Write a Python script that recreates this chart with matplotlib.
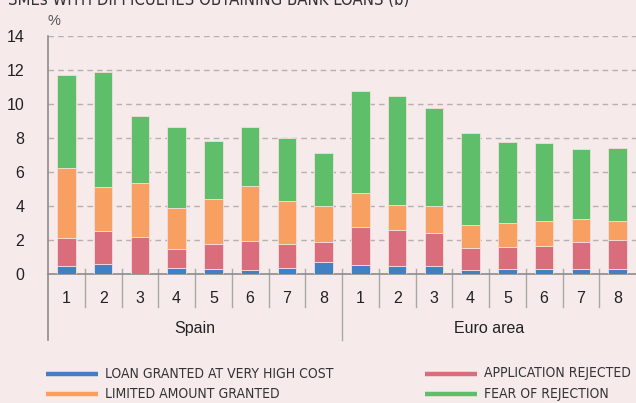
import matplotlib.pyplot as plt
from matplotlib.lines import Line2D
import numpy as np

# data (percent of SMEs)
groups = ['Spain', 'Euro area']
periods = ['1', '2', '3', '4', '5', '6', '7', '8']
high_cost = [0.49, 0.57, 0.0, 0.37, 0.31, 0.22, 0.33, 0.71,
             0.51, 0.45, 0.49, 0.22, 0.29, 0.31, 0.27, 0.31]
rejected = [1.63, 1.94, 2.16, 1.12, 1.45, 1.70, 1.43, 1.15,
            2.24, 2.12, 1.92, 1.29, 1.30, 1.32, 1.63, 1.67]
limited = [4.12, 2.63, 3.19, 2.39, 2.67, 3.26, 2.53, 2.12,
           2.03, 1.49, 1.61, 1.39, 1.43, 1.49, 1.35, 1.16]
fear = [5.49, 6.74, 3.92, 4.75, 3.37, 3.49, 3.73, 3.16,
        5.98, 6.43, 5.76, 5.41, 4.76, 4.57, 4.12, 4.27]

series = [('LOAN GRANTED AT VERY HIGH COST', high_cost, '#4280c4'),
          ('APPLICATION REJECTED', rejected, '#d96d7b'),
          ('LIMITED AMOUNT GRANTED', limited, '#f8a062'),
          ('FEAR OF REJECTION', fear, '#5fbe6a')]

bg = '#f6eaea'
plt.rcParams['font.family'] = ['Liberation Sans', 'DejaVu Sans']

fig = plt.figure(figsize=(6.36, 4.03), dpi=100, facecolor=bg)
ax = fig.add_axes([48 / 636, 129 / 403, 588 / 636, 238 / 403])
ax.set_facecolor(bg)

x = np.arange(len(periods) * len(groups))
bottom = np.zeros(len(x))
for name, vals, col in series:
    ax.bar(x, vals, 0.51, bottom=bottom, color=col, edgecolor='#f3dede',
           linewidth=0.6, zorder=3)
    bottom += np.array(vals)

ax.set_xlim(-0.5, len(x) - 0.5)
ax.set_ylim(0, 14)
ax.set_yticks(range(0, 15, 2))
ax.tick_params(axis='y', length=0, pad=17, labelsize=11.5, labelcolor='#222222')
ax.set_xticks(x)
ax.set_xticklabels(periods * len(groups))
ax.tick_params(axis='x', length=0, pad=12, labelsize=11.5, labelcolor='#222222')
ax.grid(axis='y', color='#b8b0b0', linestyle=(0, (4, 3)), linewidth=1, zorder=0)

for s in ['top', 'right']:
    ax.spines[s].set_visible(False)
ax.spines['bottom'].set_color('#8c8c8c')
ax.spines['bottom'].set_linewidth(1.2)
ax.spines['left'].set_visible(False)

tr = ax.get_xaxis_transform()
# left axis running down through the category area
ax.plot([-0.5, -0.5], [1.0, -0.277], color='#8c8c8c', lw=1.2, transform=tr, clip_on=False)
for k in range(1, len(x)):
    if k % len(periods) == 0:
        ax.plot([k - 0.5, k - 0.5], [0.021, -0.277], color='#a8a8a8', lw=1,
                transform=tr, clip_on=False)
    else:
        ax.plot([k - 0.5, k - 0.5], [0.021, -0.139], color='#a8a8a8', lw=1,
                transform=tr, clip_on=False)

for i, g in enumerate(groups):
    ax.text(i * len(periods) + (len(periods) - 1) / 2, -0.227, g, transform=tr,
            ha='center', va='center', fontsize=11.5, color='#222222')

ax.text(-0.5, 1.065, '%', transform=tr, ha='left', va='center',
        fontsize=10.5, color='#555555')

# title sits mostly above the visible area, as in the source image
fig.text(8 / 636, 1 - 5 / 403, 'SMEs WITH DIFFICULTIES OBTAINING BANK LOANS (b)',
         ha='left', va='baseline', fontsize=12, color='#333333',
         family='DejaVu Sans', stretch='condensed')

# legend, two columns
pos = [(46, 373.5), (425, 373.5), (46, 394), (425, 394)]
for (name, vals, col), (px, py) in zip(series, pos):
    fy = 1 - py / 403
    fig.add_artist(Line2D([px / 636, (px + 52) / 636], [fy, fy], color=col,
                          lw=3.2, solid_capstyle='butt'))
    fig.text((px + 59) / 636, fy, name, ha='left', va='center', fontsize=10,
             color='#333333', family='DejaVu Sans', stretch='condensed')

fig.savefig('out.png', dpi=100, facecolor=bg)
